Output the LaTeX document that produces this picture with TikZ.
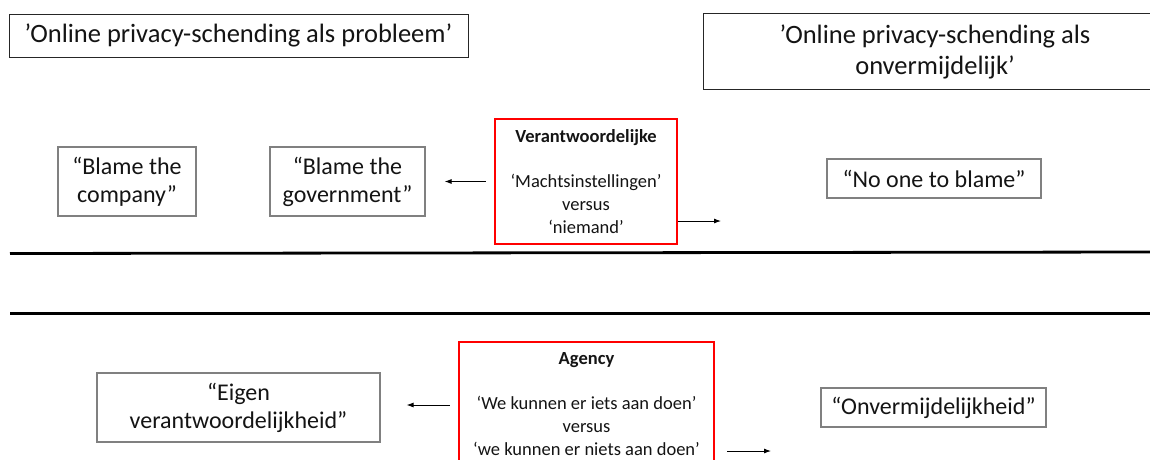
\documentclass[tikz,border=0pt]{standalone}
\usepackage{fontspec}
\setmainfont{Carlito}
\usetikzlibrary{arrows.meta}
\definecolor{boxgray}{RGB}{128,128,128}
\definecolor{txt}{RGB}{20,20,20}
\begin{document}
\begin{tikzpicture}[x=1pt,y=-1pt,
  titlefont/.style={inner sep=0pt, align=center, text=txt, font=\fontsize{26.5}{31}\selectfont},
  titlebox/.style={titlefont, draw=black!85, line width=1pt},
  titleline/.style={draw=black!85, line width=1pt},
  box/.style={draw=boxgray, line width=1.1pt, inner sep=0pt, align=center, text=txt, font=\fontsize{24}{28}\selectfont},
  redbox/.style={draw=red, line width=2.4pt, inner sep=0pt, align=center, text=txt, font=\fontsize{18.5}{22.8}\selectfont},
  boldline/.style={font=\bfseries\fontsize{18.5}{22.8}\selectfont},
  arr/.style={-{Latex[length=7pt,width=5pt]}, line width=0.9pt},
  rule/.style={line width=2.8pt, black}]
\useasboundingbox (0,0) rectangle (1150,459);
\fill[white] (0,0) rectangle (1150,459);
\clip (0,0) rectangle (1150,459);

% titles
\node[titlebox, minimum width=459pt, minimum height=43pt] (t1) at (238.5,35.5) {’Online privacy-schending als probleem’};
\node[titlefont, minimum width=462pt, minimum height=75pt] (t2) at (935,51.5) {’Online privacy-schending als\\onvermijdelijk’};
\draw[titleline] (t2.north east) -- (t2.north west) -- (t2.south west) -- (t2.south east);

% top row
\node[box, minimum width=138pt, minimum height=69pt] (bc) at (127,181.5) {“Blame the\\company”};
\node[box, minimum width=155pt, minimum height=69pt] (bg) at (347.5,181.5) {“Blame the\\government”};
\node[redbox, minimum width=182pt, minimum height=125pt] (v) at (586,181.5) {{\bfseries Verantwoordelijke}\\[0pt] \\‘Machtsinstellingen’\\versus\\‘niemand’};
\node[box, minimum width=214pt, minimum height=39pt] (nb) at (934,178.5) {“No one to blame”};

\coordinate (vr) at (721,221);
\draw[arr, shorten <=8pt, shorten >=19pt] (v.west |- bg.east) -- (bg.east);
\draw[arr] (v.east |- vr) -- (vr);

% rules
\coordinate (r1a) at (10,253.5);
\coordinate (r1b) at (1150,252);
\coordinate (r2a) at (10,313.7);
\coordinate (r2b) at (1150,313.7);
\draw[rule] (r1a) -- (r1b);
\draw[rule] (r2a) -- (r2b);

% bottom row
\node[box, minimum width=283pt, minimum height=69pt] (ev) at (238.5,407.5) {“Eigen\\verantwoordelijkheid”};
\node[redbox, minimum width=255pt, minimum height=124pt] (ag) at (586.5,404) {{\bfseries Agency}\\[0pt] \\‘We kunnen er iets aan doen’\\versus\\‘we kunnen er niets aan doen’};
\node[box, minimum width=225pt, minimum height=39pt] (on) at (933.5,407.5) {“Onvermijdelijkheid”};

\coordinate (ar) at (771,451);
\draw[arr, shorten <=8pt, shorten >=26pt] (ag.west |- 0,405) -- (ev.east |- 0,405);
\draw[arr, shorten <=12pt] (ag.east |- ar) -- (ar);
\end{tikzpicture}
\end{document}
